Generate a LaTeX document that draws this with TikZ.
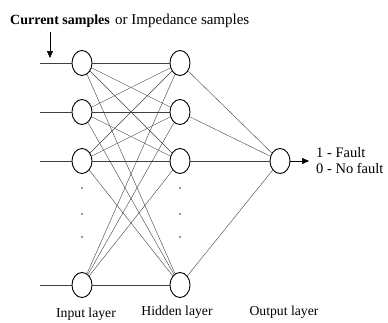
\documentclass[tikz,border=0pt]{standalone}
\usepackage{fontspec}
\setmainfont{Liberation Serif}
\usetikzlibrary{shapes.geometric,arrows.meta}
\begin{document}
\begin{tikzpicture}[x=1pt,y=-1pt,
  neuron/.style={draw,ellipse,line width=0.9pt,minimum width=20pt,minimum height=25pt,inner sep=0pt},
  link/.style={draw,line width=0.4pt,black!75},
  lab/.style={font=\fontsize{13.7}{15}\selectfont,inner sep=0pt},
  dotmark/.style={circle,fill=black!80,inner sep=0pt,minimum size=1.8pt}]
\useasboundingbox (0,0) rectangle (388,322);
% input nodes
\node[neuron] (i1) at (82,63) {};
\node[neuron] (i2) at (82,112) {};
\node[neuron] (i3) at (82,161) {};
\node[neuron] (i4) at (82,285) {};
% hidden nodes
\node[neuron] (h1) at (180,63) {};
\node[neuron] (h2) at (180,112) {};
\node[neuron] (h3) at (180,161) {};
\node[neuron] (h4) at (180,285) {};
% output
\node[neuron] (o) at (280,161) {};
% input lines
\coordinate (s1) at (40,63);
\coordinate (s2) at (40,112);
\coordinate (s3) at (40,161);
\coordinate (s4) at (40,285);
\foreach \k in {1,2,3,4} \draw[link] (s\k) -- (i\k);
% full connections
\foreach \a in {1,2,3,4} \foreach \b in {1,2,3,4} \draw[link] (i\a) -- (h\b);
\foreach \b in {1,2,3,4} \draw[link] (h\b) -- (o);
% dots
\foreach \y/\n in {188/a,214/b,237/c} {
  \node[dotmark] (di\n) at (82,\y) {};
  \node[dotmark] (dh\n) at (180,\y) {};
}
% output arrow
\coordinate (oend) at (309,161);
\draw[line width=0.6pt,-{Triangle[length=7pt,width=6pt]}] (o) -- (oend);
\node[lab,anchor=west,font=\fontsize{14.5}{15}\selectfont] (f1) at (316,153) {1 - Fault};
\node[lab,anchor=west,font=\fontsize{14.5}{15}\selectfont] (f0) at (316,168) {0 - No fault};
% top labels
\node[lab,anchor=west,font=\fontsize{14}{15}\selectfont\bfseries] (cs) at (10,21) {Current samples};
\node[lab,anchor=west,font=\fontsize{15}{16}\selectfont] (is) at (115,21) {or Impedance samples};
\coordinate (a1) at (50,32);
\coordinate (a2) at (50,58);
\draw[line width=0.6pt,-{Triangle[length=7pt,width=6pt]}] (a1) -- (a2);
% bottom labels
\node[lab] (li) at (86,314) {Input layer};
\node[lab] (lh) at (177,312) {Hidden layer};
\node[lab] (lo) at (284,312) {Output layer};
\end{tikzpicture}
\end{document}
